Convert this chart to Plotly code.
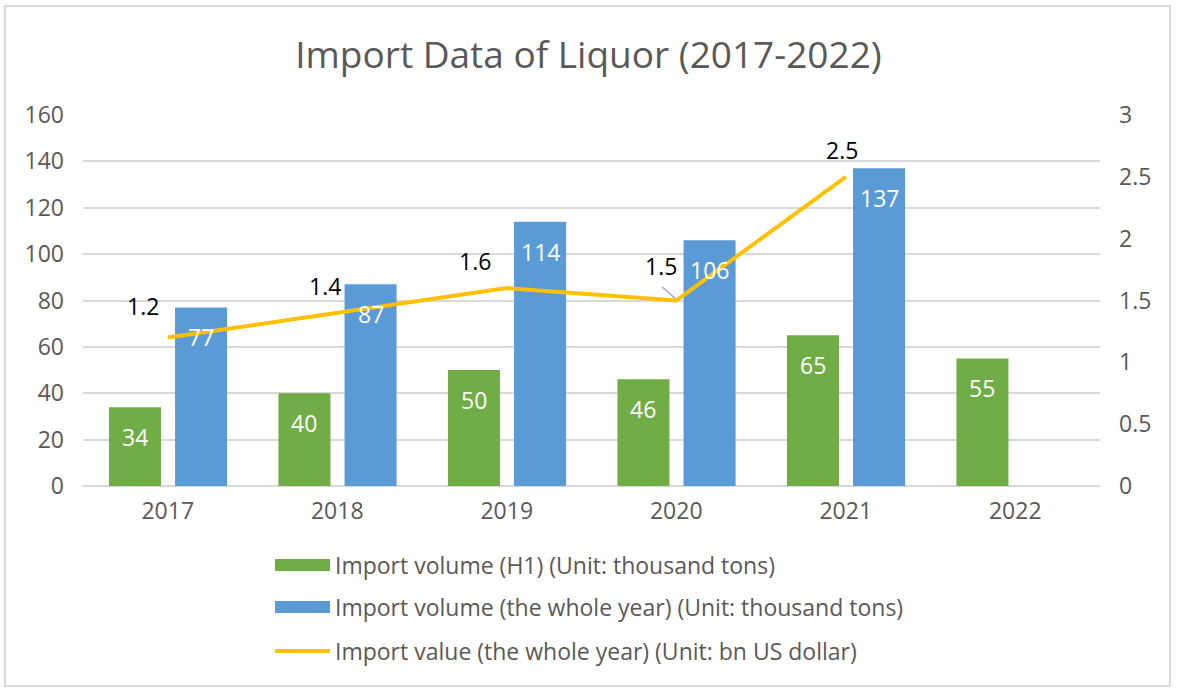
import plotly.graph_objects as go

# ---------------- data ----------------
years = ["2017", "2018", "2019", "2020", "2021", "2022"]
vol_h1 = [34, 40, 50, 46, 65, 55]
vol_year = [77, 87, 114, 106, 137]
value_year = [1.2, 1.4, 1.6, 1.5, 2.5]

name_h1 = "Import volume (H1) (Unit: thousand tons)"
name_year = "Import volume (the whole year) (Unit: thousand tons)"
name_value = "Import value (the whole year) (Unit: bn US dollar)"
title = "Import Data of Liquor (2017-2022)"

y_ticks = [0, 20, 40, 60, 80, 100, 120, 140, 160]
y2_ticks = [0, 0.5, 1, 1.5, 2, 2.5, 3]

# ---------------- styling ----------------
W, H = 1177, 693
PL, PR, PT, PB = 83, 1100, 115, 486
GREEN, BLUE, GOLD = "#70AD47", "#5B9BD5", "#FFC000"
GREY_TXT = "#595959"
GRID = "#D9D9D9"
FONT = "Open Sans, Noto Sans, sans-serif"
FS = 23
CAT_PX = (PR - PL) / len(years)

bar_w = 0.307
off_green = -0.347
off_blue = 0.043


def px(x):
    return (x - PL) / (PR - PL)


def py(y):
    return (PB - y) / (PB - PT)


fig = go.Figure()
fig.add_trace(go.Bar(x=years, y=vol_h1, width=bar_w, offset=off_green,
                     marker=dict(color=GREEN, line=dict(width=0)), name=name_h1,
                     showlegend=False))
fig.add_trace(go.Bar(x=years[:len(vol_year)], y=vol_year, width=bar_w, offset=off_blue,
                     marker=dict(color=BLUE, line=dict(width=0)), name=name_year,
                     showlegend=False))
fig.add_trace(go.Scatter(x=years[:len(value_year)], y=value_year, yaxis="y2", mode="lines",
                         line=dict(color=GOLD, width=4), name=name_value, showlegend=False))

annotations = []
# bar labels (inside end); x given as category index
for i, v in enumerate(vol_h1):
    annotations.append(dict(x=i + off_green + bar_w / 2, y=v, xref="x", yref="y", text=str(v),
                            showarrow=False, yshift=-30,
                            font=dict(family=FONT, size=FS, color="white")))
for i, v in enumerate(vol_year):
    annotations.append(dict(x=i + off_blue + bar_w / 2, y=v, xref="x", yref="y", text=str(v),
                            showarrow=False, yshift=-30,
                            font=dict(family=FONT, size=FS, color="white")))
# line labels (manually placed like the original)
label_shift = [(-25, 32), (-12, 27), (-32, 27), (-15, 35), (-4, 27)]
for i, v in enumerate(value_year):
    annotations.append(dict(x=i, y=v, xref="x", yref="y2", text=str(v), showarrow=False,
                            xshift=label_shift[i][0], yshift=label_shift[i][1],
                            font=dict(family=FONT, size=FS, color="black")))

# custom legend
legend_rows = [(565, name_h1, GREEN, "bar"), (607, name_year, BLUE, "bar"), (651, name_value, GOLD, "line")]
shapes = []
for yy, txt, col, kind in legend_rows:
    if kind == "bar":
        shapes.append(dict(type="rect", xref="paper", yref="paper", x0=px(275), x1=px(330),
                           y0=py(yy + 6), y1=py(yy - 6), fillcolor=col, line=dict(width=0)))
    else:
        shapes.append(dict(type="line", xref="paper", yref="paper", x0=px(275), x1=px(330),
                           y0=py(yy), y1=py(yy), line=dict(color=col, width=4)))
    annotations.append(dict(x=px(333), y=py(yy), xref="paper", yref="paper", text=txt,
                            showarrow=False, xanchor="left", yanchor="middle",
                            font=dict(family=FONT, size=FS, color=GREY_TXT)))

# leader line for the 1.5 label
k = 3
y2_unit_px = (PB - PT) / y2_ticks[-1]
shapes.append(dict(type="line", xref="x", yref="y2",
                   x0=k - 14 / CAT_PX, y0=value_year[k] + 13.5 / y2_unit_px,
                   x1=k - 1 / CAT_PX, y1=value_year[k] + 2 / y2_unit_px,
                   line=dict(color="#A6A6A6", width=1.5)))

# outer border
shapes.append(dict(type="rect", xref="paper", yref="paper", x0=px(5), x1=px(1170),
                   y0=py(686), y1=py(6), line=dict(color=GRID, width=2), fillcolor="rgba(0,0,0,0)",
                   layer="below"))

fig.update_layout(
    width=W, height=H,
    margin=dict(l=PL, r=W - PR, t=PT, b=H - PB),
    paper_bgcolor="white", plot_bgcolor="white",
    barmode="overlay",
    title=dict(text=title, x=0.5, xanchor="center", y=1 - 55 / H, yanchor="middle",
               font=dict(family=FONT, size=37, color=GREY_TXT)),
    xaxis=dict(type="category", range=[-0.5, len(years) - 0.5], showgrid=False,
               showline=False, zeroline=False, ticks="",
               tickfont=dict(family=FONT, size=FS, color=GREY_TXT), ticklabelstandoff=9),
    yaxis=dict(range=[0, y_ticks[-1]], tickvals=y_ticks, showgrid=True, gridcolor=GRID,
               gridwidth=1.5, zeroline=True, zerolinecolor=GRID, zerolinewidth=1.5,
               showline=False, ticks="", tickfont=dict(family=FONT, size=FS, color=GREY_TXT),
               ticklabelstandoff=18),
    yaxis2=dict(range=[0, y2_ticks[-1]], tickvals=y2_ticks, overlaying="y", side="right",
                showgrid=False, zeroline=False, showline=False, ticks="",
                tickfont=dict(family=FONT, size=FS, color=GREY_TXT), ticklabelstandoff=18),
    annotations=annotations,
    shapes=shapes,
    showlegend=False,
)

fig.write_html("out.html")
